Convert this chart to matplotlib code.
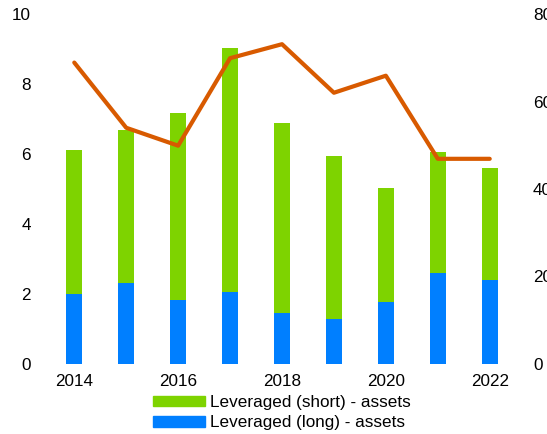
import numpy as np
import matplotlib
matplotlib.use("Agg")
import matplotlib.pyplot as plt
from matplotlib.patches import Patch

plt.rcParams["font.family"] = ["Liberation Sans", "DejaVu Sans"]

years = [2014, 2015, 2016, 2017, 2018, 2019, 2020, 2021, 2022]
long_assets = [1.99, 2.32, 1.82, 2.05, 1.46, 1.28, 1.77, 2.59, 2.40]
total_assets = [6.11, 6.69, 7.16, 9.02, 6.88, 5.94, 5.03, 6.06, 5.61]
short_assets = [t - l for t, l in zip(total_assets, long_assets)]
line_values = [68.9, 54.0, 49.9, 69.9, 73.1, 62.0, 65.9, 46.9, 46.9]

GREEN = "#7ED300"
BLUE = "#007FFF"
ORANGE = "#D85A00"

W, H = 547, 434
fig = plt.figure(figsize=(W / 100, H / 100), dpi=100)
ax = fig.add_axes([40 / W, (H - 364) / H, (524 - 40) / W, 350 / H])
ax2 = ax.twinx()

x = np.array(years)
ax.bar(x, long_assets, width=0.31, color=BLUE, zorder=2)
ax.bar(x, short_assets, width=0.31, bottom=long_assets, color=GREEN, zorder=2)
ax2.plot(x, line_values, color=ORANGE, lw=3, solid_capstyle="round", zorder=3)

ax.set_xlim(2013.34, 2022.66)
ax.set_ylim(0, 10)
ax.set_yticks([0, 2, 4, 6, 8, 10])
ax.set_xticks([2014, 2016, 2018, 2020, 2022])
ax2.set_ylim(0, 80)
ax2.set_yticks([0, 20, 40, 60, 80])

for a in (ax, ax2):
    for s in a.spines.values():
        s.set_visible(False)
    a.tick_params(length=0, labelsize=12.3, colors="black", pad=6.5)
ax.tick_params(axis="x", pad=7.5)

handles = [Patch(color=GREEN), Patch(color=BLUE)]
labels = ["Leveraged (short) - assets", "Leveraged (long) - assets"]
fig.legend(handles, labels, loc="upper left", bbox_to_anchor=(153 / W, (H - 395) / H),
           frameon=False, fontsize=12.3, borderpad=0, borderaxespad=0,
           handlelength=3.05, handleheight=0.6, handletextpad=0.3, labelspacing=0.3)

fig.savefig("out.png", dpi=100)
